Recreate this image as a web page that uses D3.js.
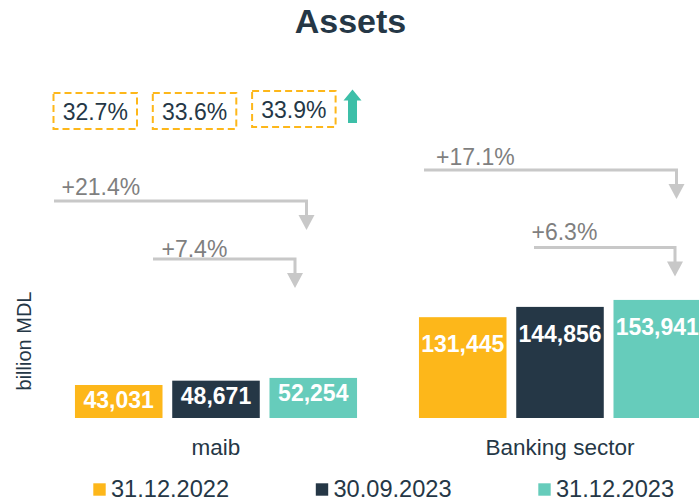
<!DOCTYPE html>
<html>
<head>
<meta charset="utf-8">
<script src="https://cdn.jsdelivr.net/npm/d3@7/dist/d3.min.js"></script>
<style>
  html, body { margin: 0; padding: 0; background: #fff; }
  svg { display: block; font-family: "Liberation Sans", Arial, sans-serif; }
</style>
</head>
<body>
<div id="chart"></div>
<script>
// ---- data ----
const categories = ["maib", "Banking sector"];
const seriesNames = ["31.12.2022", "30.09.2023", "31.12.2023"];
const seriesColors = ["#FDB71A", "#253746", "#66CCBB"];
const values = [
  [43031, 48671, 52254],     // maib
  [131445, 144856, 153941]   // Banking sector
];
const shareLabels = ["32.7%", "33.6%", "33.9%"];
const growthMaib = ["+21.4%", "+7.4%"];
const growthSector = ["+17.1%", "+6.3%"];

// ---- layout ----
const W = 699, H = 502;
const baseY = 418;
const svg = d3.select("#chart").append("svg").attr("width", W).attr("height", H);

const x0 = d3.scaleBand().domain(categories).range([44, 732]).paddingInner(0.18).paddingOuter(0.09);
const x1 = d3.scaleBand().domain(seriesNames).range([0, x0.bandwidth()]).paddingInner(0.1).paddingOuter(0);
const y = d3.scaleLinear().domain([0, 200000]).range([baseY, baseY - 153.4]);
const color = d3.scaleOrdinal().domain(seriesNames).range(seriesColors);

// title
svg.append("text").attr("x", 350.5).attr("y", 33).attr("text-anchor", "middle")
  .attr("font-size", 34).attr("font-weight", "bold").attr("fill", "#253746").text("Assets");

// y label
svg.append("text").attr("transform", "translate(31,341) rotate(-90)").attr("text-anchor", "middle")
  .attr("font-size", 20).attr("fill", "#253746").text("billion MDL");

// bars
const groups = svg.append("g").selectAll("g").data(categories).join("g")
  .attr("transform", d => `translate(${x0(d)},0)`);

groups.selectAll("rect").data((c, i) => values[i].map((v, j) => ({ s: seriesNames[j], v })))
  .join("rect")
  .attr("x", d => x1(d.s)).attr("width", x1.bandwidth())
  .attr("y", d => y(d.v)).attr("height", d => baseY - y(d.v))
  .attr("fill", d => color(d.s));

groups.selectAll("text.val").data((c, i) => values[i].map((v, j) => ({ s: seriesNames[j], v })))
  .join("text").attr("class", "val")
  .attr("x", d => x1(d.s) + x1.bandwidth() / 2)
  .attr("y", d => y(d.v) + ((baseY - y(d.v)) < 60 ? 23 : 35))
  .attr("text-anchor", "middle").attr("font-size", 23).attr("font-weight", "bold")
  .attr("fill", "#fff").text(d => d3.format(",")(d.v));

// category axis labels
svg.append("g").selectAll("text").data(categories).join("text")
  .attr("x", d => x0(d) + x0.bandwidth() / 2).attr("y", 455)
  .attr("text-anchor", "middle").attr("font-size", 22.5).attr("fill", "#253746").text(d => d);

// share boxes
const boxG = svg.append("g").selectAll("g").data(shareLabels).join("g")
  .attr("transform", (d, i) => `translate(${53.5 + i * 99.3},${i === 2 ? 91 : 93})`);
boxG.append("rect").attr("width", 83.5).attr("height", 36)
  .attr("fill", "none").attr("stroke", "#FDB71A").attr("stroke-width", 2)
  .attr("stroke-dasharray", "7,4");
boxG.append("text").attr("x", 41.75).attr("y", 27).attr("text-anchor", "middle")
  .attr("font-size", 23).attr("fill", "#253746").text(d => d);

// teal up arrow
svg.append("path")
  .attr("d", "M352.5,89.5 L361.5,100.5 L357,100.5 L357,123 L348,123 L348,100.5 L343.5,100.5 Z")
  .attr("fill", "#3DBFA8");

// growth annotations
const annotations = [
  { label: growthMaib[0], xs: 54, xe: 306.5, yl: 201, lx: 61.5, ly: 195 },
  { label: growthMaib[1], xs: 153, xe: 295, yl: 259, lx: 161.5, ly: 256.5 },
  { label: growthSector[0], xs: 424, xe: 676.5, yl: 170, lx: 436, ly: 165 },
  { label: growthSector[1], xs: 534, xe: 675, yl: 247.5, lx: 531.5, ly: 240 }
];
const ag = svg.append("g").selectAll("g").data(annotations).join("g");
ag.append("path")
  .attr("d", d => `M${d.xs},${d.yl} H${d.xe} V${d.yl + 15}`)
  .attr("fill", "none").attr("stroke", "#C8C8C8").attr("stroke-width", 3);
ag.append("path")
  .attr("d", d => `M${d.xe - 8},${d.yl + 14} L${d.xe + 8},${d.yl + 14} L${d.xe},${d.yl + 29} Z`)
  .attr("fill", "#C8C8C8");
ag.append("text").attr("x", d => d.lx).attr("y", d => d.ly)
  .attr("font-size", 23).attr("fill", "#7F7F7F").text(d => d.label);

// legend
const lg = svg.append("g").selectAll("g").data(seriesNames).join("g")
  .attr("transform", (d, i) => `translate(${93.3 + i * 222.5},0)`);
lg.append("rect").attr("y", 483.3).attr("width", 12.4).attr("height", 12.4).attr("fill", d => color(d));
lg.append("text").attr("x", 17.7).attr("y", 496.7).attr("font-size", 23.6).attr("fill", "#253746").text(d => d);
</script>
</body>
</html>
